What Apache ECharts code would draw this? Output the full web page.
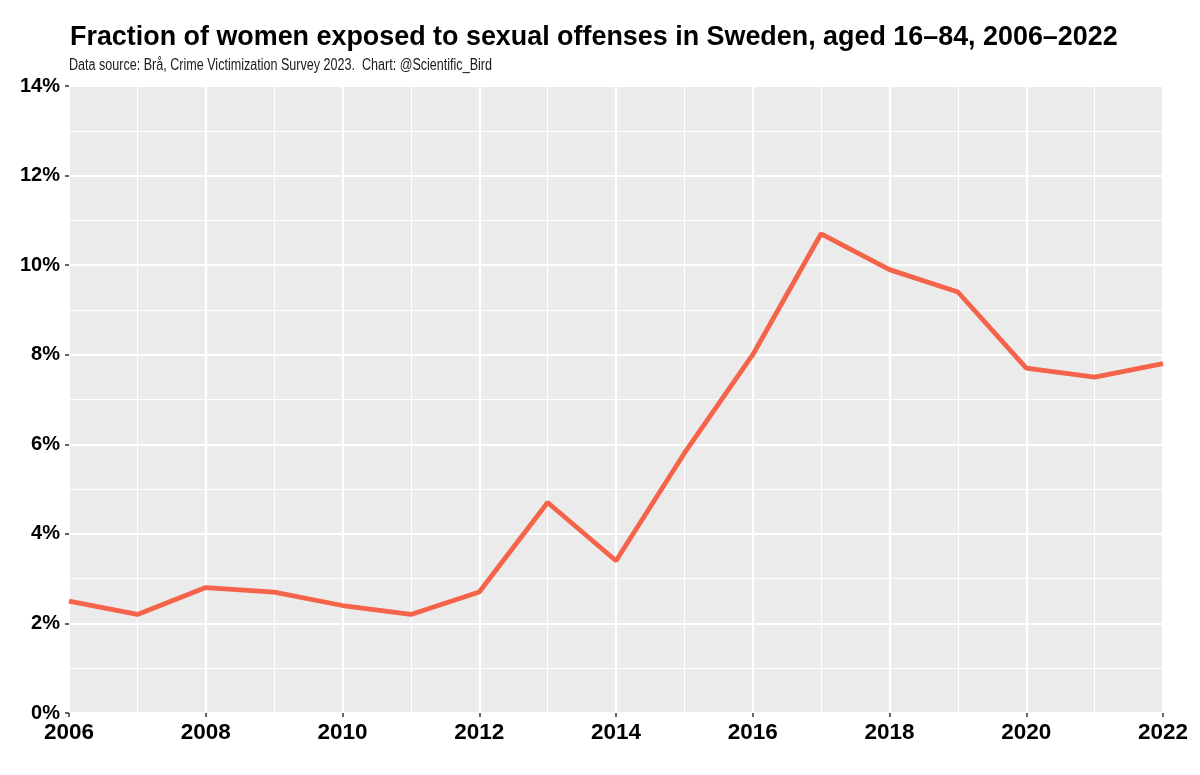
<!DOCTYPE html>
<html><head><meta charset="utf-8">
<script src="https://cdn.jsdelivr.net/npm/echarts@6/dist/echarts.min.js"></script>
<style>html,body{margin:0;padding:0;background:#fff}#c{width:1200px;height:775px}</style>
</head><body><div id="c"></div>
<script>
const years = [2006,2007,2008,2009,2010,2011,2012,2013,2014,2015,2016,2017,2018,2019,2020,2021,2022];
const fraction = [0.025,0.022,0.028,0.027,0.024,0.022,0.027,0.047,0.034,0.058,0.080,0.107,0.099,0.094,0.077,0.075,0.078];
const titleText = 'Fraction of women exposed to sexual offenses in Sweden, aged 16–84, 2006–2022';
const subtitleText = 'Data source: Brå, Crime Victimization Survey 2023.  Chart: @Scientific_Bird';

const chart = echarts.init(document.getElementById('c'));
chart.setOption({
  animation: false,
  backgroundColor: '#fff',
  title: {
    text: titleText, left: 65, top: 19,
    textStyle: {fontFamily: 'Liberation Sans', fontWeight: 'bold', fontSize: 26.9, color: '#000'}
  },
  graphic: [{
    type: 'text', left: 69, top: 58, scaleX: 0.785,
    style: {text: subtitleText, font: '16px "Liberation Sans"', fill: '#1a1a1a'}
  }],
  grid: {left: 69, right: 37, top: 86, bottom: 62, show: true, backgroundColor: '#EBEBEB', borderWidth: 0},
  xAxis: {
    type: 'value', min: 2006, max: 2022, interval: 2,
    axisLine: {show: false},
    axisTick: {show: true, length: 4, lineStyle: {color: '#333', width: 1.5}},
    axisLabel: {fontFamily: 'Liberation Sans', fontWeight: 'bold', fontSize: 22.5, color: '#000', margin: 8, formatter: v => String(v)},
    splitLine: {show: true, lineStyle: {color: '#fff', width: 2.2}},
    minorTick: {show: false, splitNumber: 2},
    minorSplitLine: {show: true, lineStyle: {color: '#fff', width: 1}}
  },
  yAxis: {
    type: 'value', min: 0, max: 0.14, interval: 0.02,
    axisLine: {show: false},
    axisTick: {show: true, length: 4, lineStyle: {color: '#333', width: 1.5}},
    axisLabel: {fontFamily: 'Liberation Sans', fontWeight: 'bold', fontSize: 20, color: '#000', margin: 9,
      formatter: v => Math.round(v*100) + '%'},
    splitLine: {show: true, lineStyle: {color: '#fff', width: 2.2}},
    minorTick: {show: false, splitNumber: 2},
    minorSplitLine: {show: true, lineStyle: {color: '#fff', width: 1}}
  },
  series: [{
    type: 'line', data: years.map((y,i)=>[y, fraction[i]]),
    showSymbol: false, lineStyle: {color: '#F5634A', width: 4.8}, itemStyle: {color: '#F5634A'}
  }]
});
</script></body></html>
